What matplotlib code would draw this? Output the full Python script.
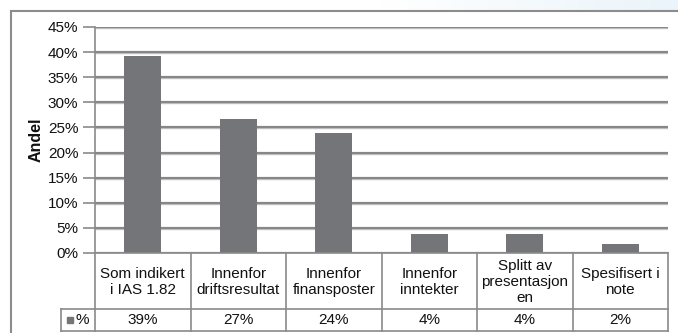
import matplotlib.pyplot as plt
import numpy as np
from matplotlib.lines import Line2D
from matplotlib.patches import Rectangle

plt.rcParams['font.family'] = ['Liberation Sans', 'DejaVu Sans']

# kategorier og andeler (%)
kategorier = ['Som indikert\ni IAS 1.82', 'Innenfor\ndriftsresultat', 'Innenfor\nfinansposter',
              'Innenfor\ninntekter', 'Splitt av\npresentasjon\nen', 'Spesifisert i\nnote']
andel = [39.2, 26.6, 23.9, 3.7, 3.7, 1.8]
yticks = [0, 5, 10, 15, 20, 25, 30, 35, 40, 45]
serie = '%'

W, H = 678, 333
bar_farge = '#737578'
linje = '#8a8a8a'
tekst = '#111111'

fig = plt.figure(figsize=(W / 100, H / 100), dpi=100)

def fx(px):
    return px / W

def fy(px):
    return 1 - px / H

# svak blå bakgrunn øverst til høyre
grad = np.linspace(0, 1, 256).reshape(1, -1)
bg = fig.add_axes([fx(380), fy(10), fx(W - 380), 10 / H], zorder=0)
bg.imshow(grad, aspect='auto', cmap=plt.matplotlib.colors.LinearSegmentedColormap.from_list(
    'bl', ['#ffffff', '#eaf4fa']), extent=[0, 1, 0, 1])
bg.axis('off')

# ramme rundt diagrammet
fig.add_artist(Line2D([fx(11), 1], [fy(10.5), fy(10.5)], color='#8c8c8c', lw=1.5))
fig.add_artist(Line2D([fx(11), fx(11)], [fy(10.5), 0], color='#8c8c8c', lw=1.5))

# søylediagram
ax = fig.add_axes([fx(95), fy(253), fx(668 - 95), (253 - 27) / H])
x = np.arange(len(andel)) + 0.5
ax.bar(x, andel, width=0.39, color=bar_farge, zorder=3)
ax.set_xlim(0, len(andel))
ax.set_ylim(0, 45)
ax.set_yticks(yticks)
ax.set_yticklabels([f'{t}%' for t in yticks], fontsize=11, color=tekst)
ax.set_xticks([])
for t in yticks:
    ax.axhline(t, color='#bdbdbd', lw=2.4, zorder=1)
    ax.axhline(t, color='#777777', lw=1.1, zorder=2)
ax.tick_params(axis='y', length=9, color='#8a8a8a', width=1.2, pad=3)
for s in ['top', 'right', 'bottom']:
    ax.spines[s].set_visible(False)
ax.spines['left'].set_color(linje)
ax.spines['left'].set_linewidth(1.2)
ax.set_ylabel('Andel', fontsize=11.5, fontweight='bold', labelpad=3, color=tekst)

# datatabell under diagrammet
cw = (668 - 95) / len(andel)
tab = fig.add_axes([fx(61), fy(331), fx(668 - 61), (331 - 253) / H])
tab.set_xlim(-(95 - 61) / cw, len(andel))
tab.set_ylim(331 - 253, 0)
tab.axis('off')
rad = 309 - 253
kw = dict(color=linje, lw=1.2, clip_on=False)
x0 = tab.get_xlim()[0]
tab.plot([0, len(andel)], [0, 0], **kw)
tab.plot([x0, len(andel)], [rad, rad], **kw)
tab.plot([x0, len(andel)], [78, 78], **kw)
tab.plot([x0, x0], [rad, 78], **kw)
for i in range(len(andel) + 1):
    tab.plot([i, i], [0, 78], **kw)
for i, (k, v) in enumerate(zip(kategorier, andel)):
    tab.text(i + 0.5, rad / 2 + 1, k, ha='center', va='center', fontsize=11,
             linespacing=1.15, color=tekst)
    tab.text(i + 0.5, (rad + 78) / 2, f'{v:.0f}%', ha='center', va='center',
             fontsize=11, color=tekst)
tab.add_patch(Rectangle((x0 + 5.5 / cw, 64), 6.5 / cw, 6, color=bar_farge, clip_on=False))
tab.text(x0 + 15 / cw, (rad + 78) / 2, serie, ha='left', va='center', fontsize=11, color=tekst)

fig.savefig('out.png', dpi=100)
